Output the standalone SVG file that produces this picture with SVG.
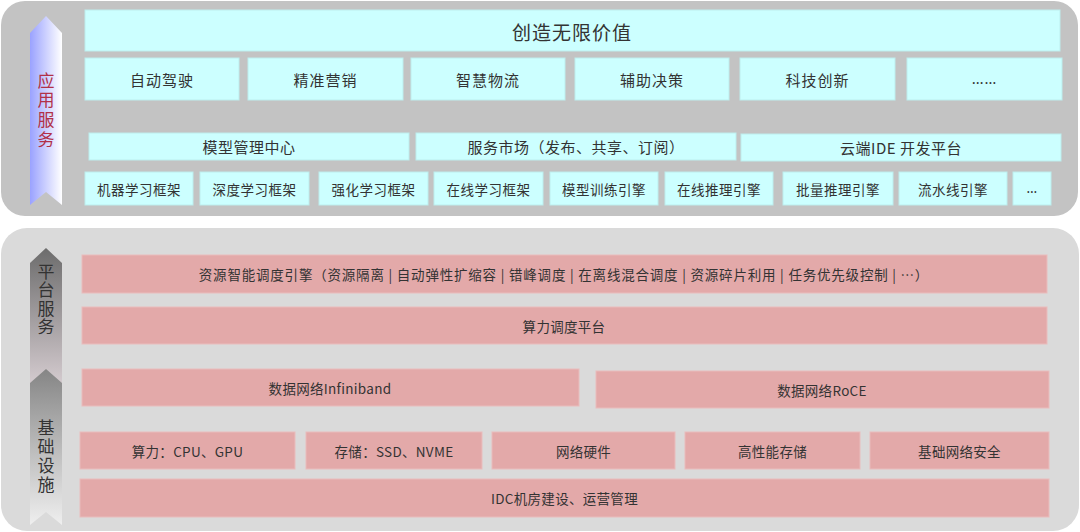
<svg xmlns="http://www.w3.org/2000/svg" width="1080" height="532" viewBox="0 0 1080 532">
<defs>
<linearGradient id="gBlue" x1="0" y1="0" x2="1" y2="0">
<stop offset="0" stop-color="#9aa2ff"/>
<stop offset="1" stop-color="#ffffff"/>
</linearGradient>
<linearGradient id="gDark1" x1="0" y1="0" x2="0" y2="1">
<stop offset="0" stop-color="#6c6c6c"/>
<stop offset="1" stop-color="#d4cbcf"/>
</linearGradient>
<linearGradient id="gDark2" x1="0" y1="0" x2="0" y2="1">
<stop offset="0" stop-color="#858585"/>
<stop offset="1" stop-color="#efefef"/>
</linearGradient>
<style>
text{font-family:"Noto Sans CJK SC","Noto Sans",sans-serif;fill:#333;text-anchor:middle;dominant-baseline:central}
.c{fill:#ccffff;stroke:#bdeeee;stroke-width:1}
.p{fill:#e3a9a9;stroke:#e9bcbc;stroke-width:1}
.t1{font-size:19px;letter-spacing:1px}
.t2{font-size:15px;letter-spacing:1px}
.t3{font-size:15px;letter-spacing:0.5px}
.t4{font-size:13.5px;letter-spacing:0.5px}
.b{font-size:13.5px;letter-spacing:0.3px}
.lv{font-size:17px;writing-mode:vertical-rl}
.dots{font-family:"Noto Sans","DejaVu Sans",sans-serif}
</style>
</defs>

<g id="panel-app">
<rect x="1" y="1" width="1077" height="215" rx="24" fill="#c3c3c3"/>
</g>
<g id="panel-platform">
<rect x="1" y="228" width="1078" height="303" rx="26" fill="#dadada"/>
</g>

<g id="arrow-app">
<polygon points="30,33 46,16 62,33 62,205 46,192 30,205" fill="url(#gBlue)"/>
<text class="lv" x="46" y="111" style="fill:#b23048;letter-spacing:2.7px">应用服务</text>
</g>
<g id="arrow-platform">
<polygon points="30,263 46,248 62,263 62,384 46,371 30,384" fill="url(#gDark1)"/>
<text class="lv" x="46" y="300" style="letter-spacing:1.5px">平台服务</text>
</g>
<g id="arrow-infra">
<polygon points="30,383 46,369 62,383 62,525 46,512 30,525" fill="url(#gDark2)"/>
<text class="lv" x="46" y="457.5" style="letter-spacing:2px">基础设施</text>
</g>

<g id="n-value"><rect class="c" x="85" y="10" width="975" height="41"/><text class="t1" x="572" y="31">创造无限价值</text></g>

<g id="n-autodrive"><rect class="c" x="85" y="58" width="154" height="42"/><text class="t2" x="162" y="79">自动驾驶</text></g>
<g id="n-marketing"><rect class="c" x="248" y="58" width="155" height="42"/><text class="t2" x="325.5" y="79">精准营销</text></g>
<g id="n-logistics"><rect class="c" x="411" y="58" width="154" height="42"/><text class="t2" x="488" y="79">智慧物流</text></g>
<g id="n-decision"><rect class="c" x="575" y="58" width="154" height="42"/><text class="t2" x="652" y="79">辅助决策</text></g>
<g id="n-innovation"><rect class="c" x="740" y="58" width="155" height="42"/><text class="t2" x="817.5" y="79">科技创新</text></g>
<g id="n-more1"><rect class="c" x="907" y="58" width="155" height="42"/><text class="t2 dots" x="984.5" y="78">……</text></g>

<g id="n-modelmgmt"><rect class="c" x="89" y="133" width="320" height="27"/><text class="t3" x="249" y="146.5">模型管理中心</text></g>
<g id="n-market"><rect class="c" x="416" y="133" width="320" height="27"/><text class="t3" x="576" y="146.5">服务市场（发布、共享、订阅）</text></g>
<g id="n-ide"><rect class="c" x="741" y="134" width="320" height="27"/><text class="t3" x="901" y="147.5">云端IDE 开发平台</text></g>

<g id="n-ml"><rect class="c" x="85" y="172" width="108" height="33"/><text class="t4" x="139" y="188.5">机器学习框架</text></g>
<g id="n-dl"><rect class="c" x="200" y="172" width="109" height="33"/><text class="t4" x="254.5" y="188.5">深度学习框架</text></g>
<g id="n-rl"><rect class="c" x="319" y="172" width="109" height="33"/><text class="t4" x="373.5" y="188.5">强化学习框架</text></g>
<g id="n-ol"><rect class="c" x="434" y="172" width="109" height="33"/><text class="t4" x="488.5" y="188.5">在线学习框架</text></g>
<g id="n-train"><rect class="c" x="550" y="172" width="108" height="33"/><text class="t4" x="604" y="188.5">模型训练引擎</text></g>
<g id="n-infer"><rect class="c" x="665" y="172" width="108" height="33"/><text class="t4" x="719" y="188.5">在线推理引擎</text></g>
<g id="n-batch"><rect class="c" x="783" y="172" width="110" height="33"/><text class="t4" x="838" y="188.5">批量推理引擎</text></g>
<g id="n-pipeline"><rect class="c" x="899" y="172" width="108" height="33"/><text class="t4" x="953" y="188.5">流水线引擎</text></g>
<g id="n-more2"><rect class="c" x="1013" y="172" width="38" height="33"/><text class="t4 dots" x="1032" y="188">…</text></g>

<g id="n-sched"><rect class="p" x="82" y="255" width="965" height="38"/><text class="b" x="564" y="274" style="letter-spacing:0.8px">资源智能调度引擎（资源隔离 | 自动弹性扩缩容 | 错峰调度 | 在离线混合调度 | 资源碎片利用 | 任务优先级控制 | …）</text></g>
<g id="n-compute-sched"><rect class="p" x="82" y="307" width="965" height="37"/><text class="b" x="564" y="325.5">算力调度平台</text></g>
<g id="n-ib"><rect class="p" x="82" y="369" width="497" height="37"/><text class="b" x="330" y="387.5">数据网络Infiniband</text></g>
<g id="n-roce"><rect class="p" x="596" y="371" width="453" height="37"/><text class="b" x="822" y="389.5">数据网络RoCE</text></g>

<g id="n-cpu"><rect class="p" x="80" y="432" width="215" height="37"/><text class="b" x="187.5" y="450.5">算力：CPU、GPU</text></g>
<g id="n-storage"><rect class="p" x="306" y="432" width="176" height="37"/><text class="b" x="394" y="450.5">存储：SSD、NVME</text></g>
<g id="n-nethw"><rect class="p" x="492" y="432" width="183" height="37"/><text class="b" x="583.5" y="450.5">网络硬件</text></g>
<g id="n-hpstorage"><rect class="p" x="685" y="432" width="175" height="37"/><text class="b" x="772.5" y="450.5">高性能存储</text></g>
<g id="n-netsec"><rect class="p" x="870" y="432" width="179" height="37"/><text class="b" x="959.5" y="450.5">基础网络安全</text></g>
<g id="n-idc"><rect class="p" x="80" y="479" width="969" height="38"/><text class="b" x="564.5" y="498">IDC机房建设、运营管理</text></g>
</svg>
